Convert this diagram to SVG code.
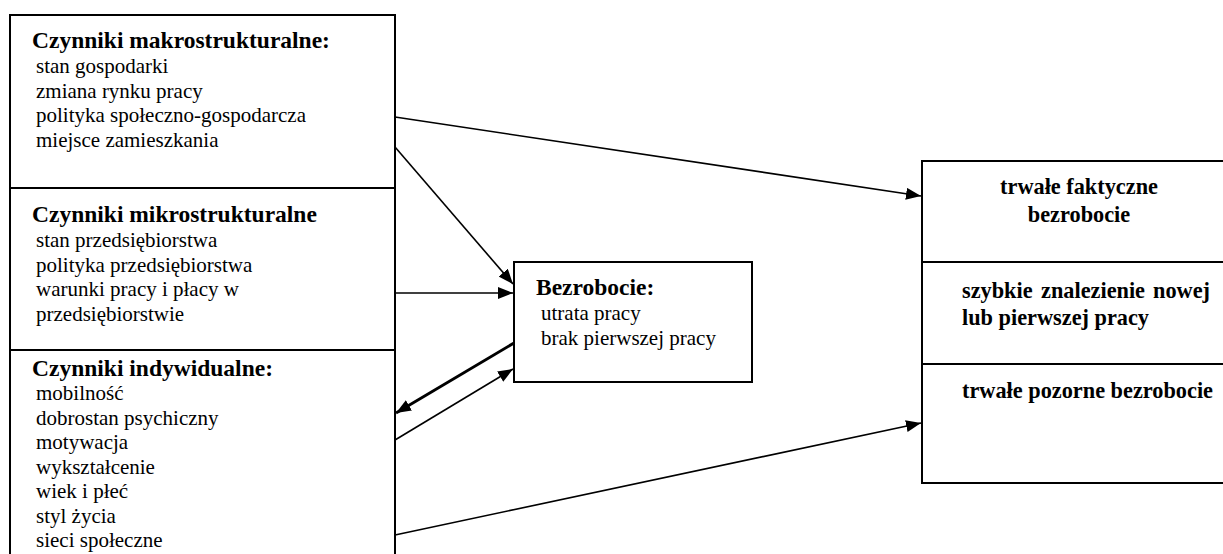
<svg xmlns="http://www.w3.org/2000/svg" width="1223" height="554" viewBox="0 0 1223 554">
<style>
.box{fill:#fff;stroke:#000;stroke-width:2}
.div{stroke:#000;stroke-width:2}
.h{font-family:"Liberation Serif","DejaVu Serif",serif;font-weight:bold;font-size:23.5px;fill:#000}
.hr{font-family:"Liberation Serif","DejaVu Serif",serif;font-weight:bold;font-size:22.3px;fill:#000}
.t{font-family:"Liberation Serif","DejaVu Serif",serif;font-size:21px;fill:#000}
.c{stroke:#000;stroke-width:1.6;fill:none;marker-end:url(#ah)}
.thick{stroke-width:3}
</style>
<defs>
<marker id="ah" markerUnits="userSpaceOnUse" markerWidth="16" markerHeight="12" refX="15" refY="6" orient="auto">
<path d="M0,0 L15,6 L0,12 z" fill="#000"/>
</marker>
</defs>
<rect width="1223" height="554" fill="#fff"/>
<g id="czynniki">
<rect class="box" x="10" y="15" width="385" height="560"/>
<line class="div" x1="10" y1="188" x2="395" y2="188"/>
<line class="div" x1="10" y1="350" x2="395" y2="350"/>
</g>
<g id="makro">
<text class="h" x="32" y="48">Czynniki makrostrukturalne:</text>
<text class="t" x="36" y="73">stan gospodarki</text>
<text class="t" x="36" y="97.5">zmiana rynku pracy</text>
<text class="t" x="36" y="122">polityka społeczno-gospodarcza</text>
<text class="t" x="36" y="146.5">miejsce zamieszkania</text>
</g>
<g id="mikro">
<text class="h" x="32" y="222">Czynniki mikrostrukturalne</text>
<text class="t" x="36" y="247">stan przedsiębiorstwa</text>
<text class="t" x="36" y="271.5">polityka przedsiębiorstwa</text>
<text class="t" x="36" y="296">warunki pracy i płacy w</text>
<text class="t" x="36" y="320.5">przedsiębiorstwie</text>
</g>
<g id="indywidualne">
<text class="h" x="32" y="376">Czynniki indywidualne:</text>
<text class="t" x="36" y="400">mobilność</text>
<text class="t" x="36" y="424.5">dobrostan psychiczny</text>
<text class="t" x="36" y="449">motywacja</text>
<text class="t" x="36" y="473.5">wykształcenie</text>
<text class="t" x="36" y="498">wiek i płeć</text>
<text class="t" x="36" y="522.5">styl życia</text>
<text class="t" x="36" y="547">sieci społeczne</text>
</g>
<g id="bezrobocie">
<rect class="box" x="514" y="262" width="238" height="120"/>
<text class="h" x="536" y="295">Bezrobocie:</text>
<text class="t" x="541" y="320">utrata pracy</text>
<text class="t" x="541" y="345">brak pierwszej pracy</text>
</g>
<g id="skutki">
<rect class="box" x="922" y="161" width="320" height="322"/>
<line class="div" x1="922" y1="262" x2="1242" y2="262"/>
<line class="div" x1="922" y1="364" x2="1242" y2="364"/>
</g>
<g id="faktyczne">
<text class="hr" x="1079" y="194" text-anchor="middle">trwałe faktyczne</text>
<text class="hr" x="1079" y="222" text-anchor="middle">bezrobocie</text>
</g>
<g id="znalezienie">
<text class="hr" y="298"><tspan x="962">szybkie</tspan><tspan x="1041">znalezienie</tspan><tspan x="1210" text-anchor="end">nowej</tspan></text>
<text class="hr" x="962" y="325">lub pierwszej pracy</text>
</g>
<g id="pozorne">
<text class="hr" x="962" y="398">trwałe pozorne bezrobocie</text>
</g>
<g id="connectors">
<line class="c" x1="395" y1="117" x2="921" y2="196"/>
<line class="c" x1="395" y1="147" x2="513" y2="284"/>
<line class="c" x1="395" y1="293" x2="513" y2="293"/>
<line class="c thick" x1="514" y1="343" x2="396" y2="413"/>
<line class="c" x1="395" y1="440" x2="513" y2="369"/>
<line class="c" x1="395" y1="535" x2="921" y2="423"/>
</g>
</svg>
